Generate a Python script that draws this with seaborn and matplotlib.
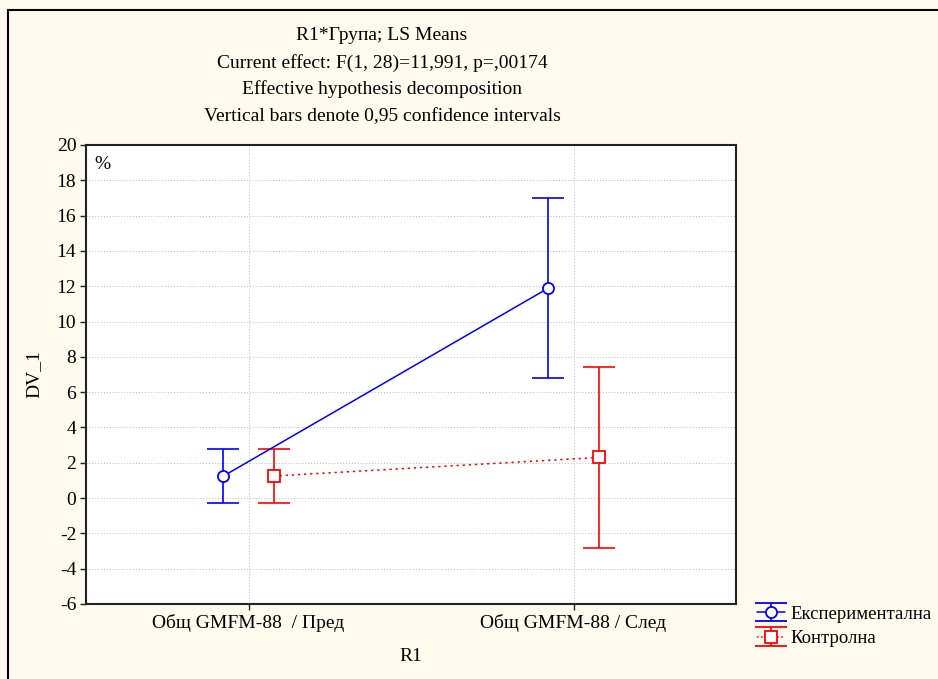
import matplotlib
matplotlib.use("Agg")
import matplotlib.pyplot as plt
from matplotlib.patches import Rectangle
import numpy as np
import pandas as pd
import seaborn as sns

# LS means and 95% CI half-widths per group and time point
categories = ["Общ GMFM-88  / Пред", "Общ GMFM-88 / След"]
groups = ["Експериментална", "Контролна"]
means_exp = [1.25, 11.9]
ci_exp = [1.55, 5.1]
means_ctl = [1.25, 2.3]
ci_ctl = [1.55, 5.1]
yticks = list(range(-6, 21, 2))

title_lines = [
    "R1*Група; LS Means",
    "Current effect: F(1, 28)=11,991, p=,00174",
    "Effective hypothesis decomposition",
    "Vertical bars denote 0,95 confidence intervals",
]

sns.set_theme(style="white")
plt.rcParams["font.family"] = ["Liberation Serif", "DejaVu Serif"]
plt.rcParams["font.size"] = 14
plt.rcParams.update({"text.color": "black", "axes.labelcolor": "black",
                     "xtick.color": "black", "ytick.color": "black"})

bg = "#FFF9EE"
colors = {"Експериментална": "#0000FF", "Контролна": "#FF0000"}
offsets = {"Експериментална": -0.077, "Контролна": 0.077}

rows = []
for g, m, c in [(groups[0], means_exp, ci_exp), (groups[1], means_ctl, ci_ctl)]:
    for i, (mv, cv) in enumerate(zip(m, c)):
        rows.append({"group": g, "cat": i, "x": i + offsets[g], "mean": mv, "ci": cv})
df = pd.DataFrame(rows)

fig = plt.figure(figsize=(9.38, 6.79), dpi=100, facecolor=bg)
ax = fig.add_axes([86 / 938, 1 - 604 / 679, (736 - 86) / 938, (604 - 145) / 679])
ax.set_facecolor("white")

# outer frame of the graph window
fig.patches.append(Rectangle((8 / 938, -0.1), 1.2, 1.1 - 10 / 679, transform=fig.transFigure,
                             fill=False, edgecolor="black", linewidth=1.5, zorder=0))

sns.lineplot(data=df, x="x", y="mean", hue="group", style="group",
             palette=colors, dashes={"Експериментална": "", "Контролна": (1.5, 2.5)},
             markers={"Експериментална": "o", "Контролна": "s"}, markersize=8,
             markeredgewidth=1.3, linewidth=1.1,
             sort=False, legend=False, ax=ax, zorder=4)
for line in ax.lines:
    line.set_markerfacecolor("white")
    line.set_markeredgecolor(line.get_color())

handles = []
for g in groups:
    sub = df[df["group"] == g]
    ax.errorbar(sub["x"], sub["mean"], yerr=sub["ci"], fmt="none",
                ecolor=colors[g], elinewidth=1.2, capsize=11.5, capthick=1.2, zorder=3)
    h = ax.errorbar([np.nan], [np.nan], yerr=[1], color=colors[g],
                    marker="o" if g == groups[0] else "s", markersize=8,
                    markerfacecolor="white", markeredgecolor=colors[g], markeredgewidth=1.3,
                    linestyle="-" if g == groups[0] else ":", linewidth=1.1,
                    ecolor=colors[g], elinewidth=1.2, capsize=11.5, capthick=1.2)
    handles.append(h)

ax.set_xlim(-0.5, 1.5)
ax.set_ylim(-6, 20)
ax.set_yticks(yticks)
ax.set_yticklabels([str(v) for v in yticks], fontsize=14)
ax.set_xticks([0, 1])
ax.set_xticklabels(categories, fontsize=14)
ax.grid(True, color="#BBBBBB", linestyle=(0, (1, 2)), linewidth=0.7)
ax.set_axisbelow(True)
for s in ax.spines.values():
    s.set_color("#222222")
    s.set_linewidth(1.5)
ax.tick_params(axis="both", length=4, width=1, color="#222222", direction="out",
               left=True, bottom=True, pad=3)

ax.set_xlabel("R1", fontsize=14, labelpad=12)
ax.set_ylabel("DV_1", fontsize=14, labelpad=10)
ax.text(0.013, 0.975, "%", transform=ax.transAxes, ha="left", va="top", fontsize=14)

for i, t in enumerate(title_lines):
    fig.text(382 / 938, 1 - (36 + i * 26.7) / 679, t, ha="center", va="center", fontsize=14)

fig.legend(handles, groups, loc="upper left", bbox_to_anchor=(749 / 938, 1 - 598 / 679),
           frameon=False, fontsize=13.5, handlelength=1.5, handletextpad=0.3,
           labelspacing=0.4, borderaxespad=0)

fig.savefig("out.png", dpi=100, facecolor=bg)
